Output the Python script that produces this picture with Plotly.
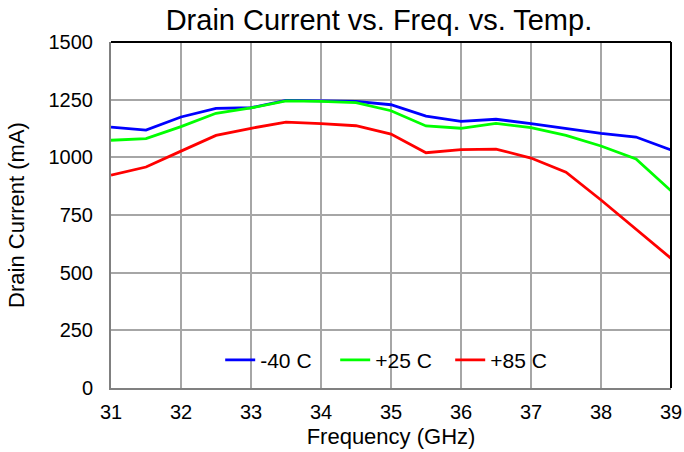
import plotly.graph_objects as go

freq = [31, 31.5, 32, 32.5, 33, 33.5, 34, 34.5, 35, 35.5, 36, 36.5, 37, 37.5, 38, 38.5, 39]
i_m40 = [1131, 1118, 1175, 1212, 1215, 1247, 1245, 1243, 1228, 1179, 1156, 1165, 1146, 1126, 1104, 1088, 1032]
i_p25 = [1074, 1081, 1133, 1191, 1214, 1245, 1243, 1237, 1202, 1136, 1126, 1147, 1129, 1095, 1049, 993, 855]
i_p85 = [923, 958, 1027, 1095, 1126, 1153, 1146, 1137, 1101, 1020, 1033, 1036, 997, 936, 815, 690, 562]
names = ["-40 C", "+25 C", "+85 C"]
colors = ["#0000FF", "#00FF00", "#FF0000"]
x_ticks = [31, 32, 33, 34, 35, 36, 37, 38, 39]
y_ticks = [0, 250, 500, 750, 1000, 1250, 1500]

font = "Liberation Sans, Arial, sans-serif"
fig = go.Figure()
for ys, n, c in zip([i_m40, i_p25, i_p85], names, colors):
    fig.add_trace(go.Scatter(x=freq, y=ys, mode="lines", name=n,
                             line=dict(color=c, width=2.8)))

fig.update_layout(
    width=684, height=452,
    margin=dict(l=111, r=13, t=42, b=64, autoexpand=False),
    paper_bgcolor="white", plot_bgcolor="white",
    font=dict(family=font, size=20, color="black"),
    title=dict(text="Drain Current vs. Freq. vs. Temp.", x=0.554, xanchor="center",
               y=0.956, yanchor="middle", font=dict(size=29, family=font), automargin=False),
    showlegend=True,
    legend=dict(orientation="h", x=0.195, xanchor="left", y=0.08, yanchor="middle",
                bgcolor="rgba(0,0,0,0)", font=dict(size=21), itemwidth=30,
                entrywidth=70, entrywidthmode="pixels", tracegroupgap=0),
    xaxis=dict(range=[31, 39], tickvals=x_ticks, showgrid=True, gridcolor="#A6A6A6",
               gridwidth=1.6, showline=True, linecolor="#808080", linewidth=2,
               ticks="outside", ticklen=5, tickcolor="rgba(0,0,0,0)", zeroline=False,
               automargin=False,
               title=dict(text="Frequency (GHz)", font=dict(size=22), standoff=7)),
    yaxis=dict(range=[0, 1500], tickvals=y_ticks, showgrid=True, gridcolor="#A6A6A6",
               gridwidth=1.6, showline=True, linecolor="#808080", linewidth=2,
               ticks="outside", ticklen=12, tickcolor="rgba(0,0,0,0)", zeroline=False,
               automargin=False,
               title=dict(text="Drain Current (mA)", font=dict(size=22), standoff=18)),
    shapes=[
        dict(type="line", xref="paper", yref="paper", x0=0, x1=1, y0=1, y1=1,
             line=dict(color="black", width=2)),
        dict(type="line", xref="paper", yref="paper", x0=1, x1=1, y0=0, y1=1,
             line=dict(color="black", width=2)),
    ],
)
# remove the browser's default 8px body margin so the figure fills the window
fig.write_html("out.html", config={"displayModeBar": False},
               post_script="document.body.style.margin='0px';document.body.style.overflow='hidden';")
